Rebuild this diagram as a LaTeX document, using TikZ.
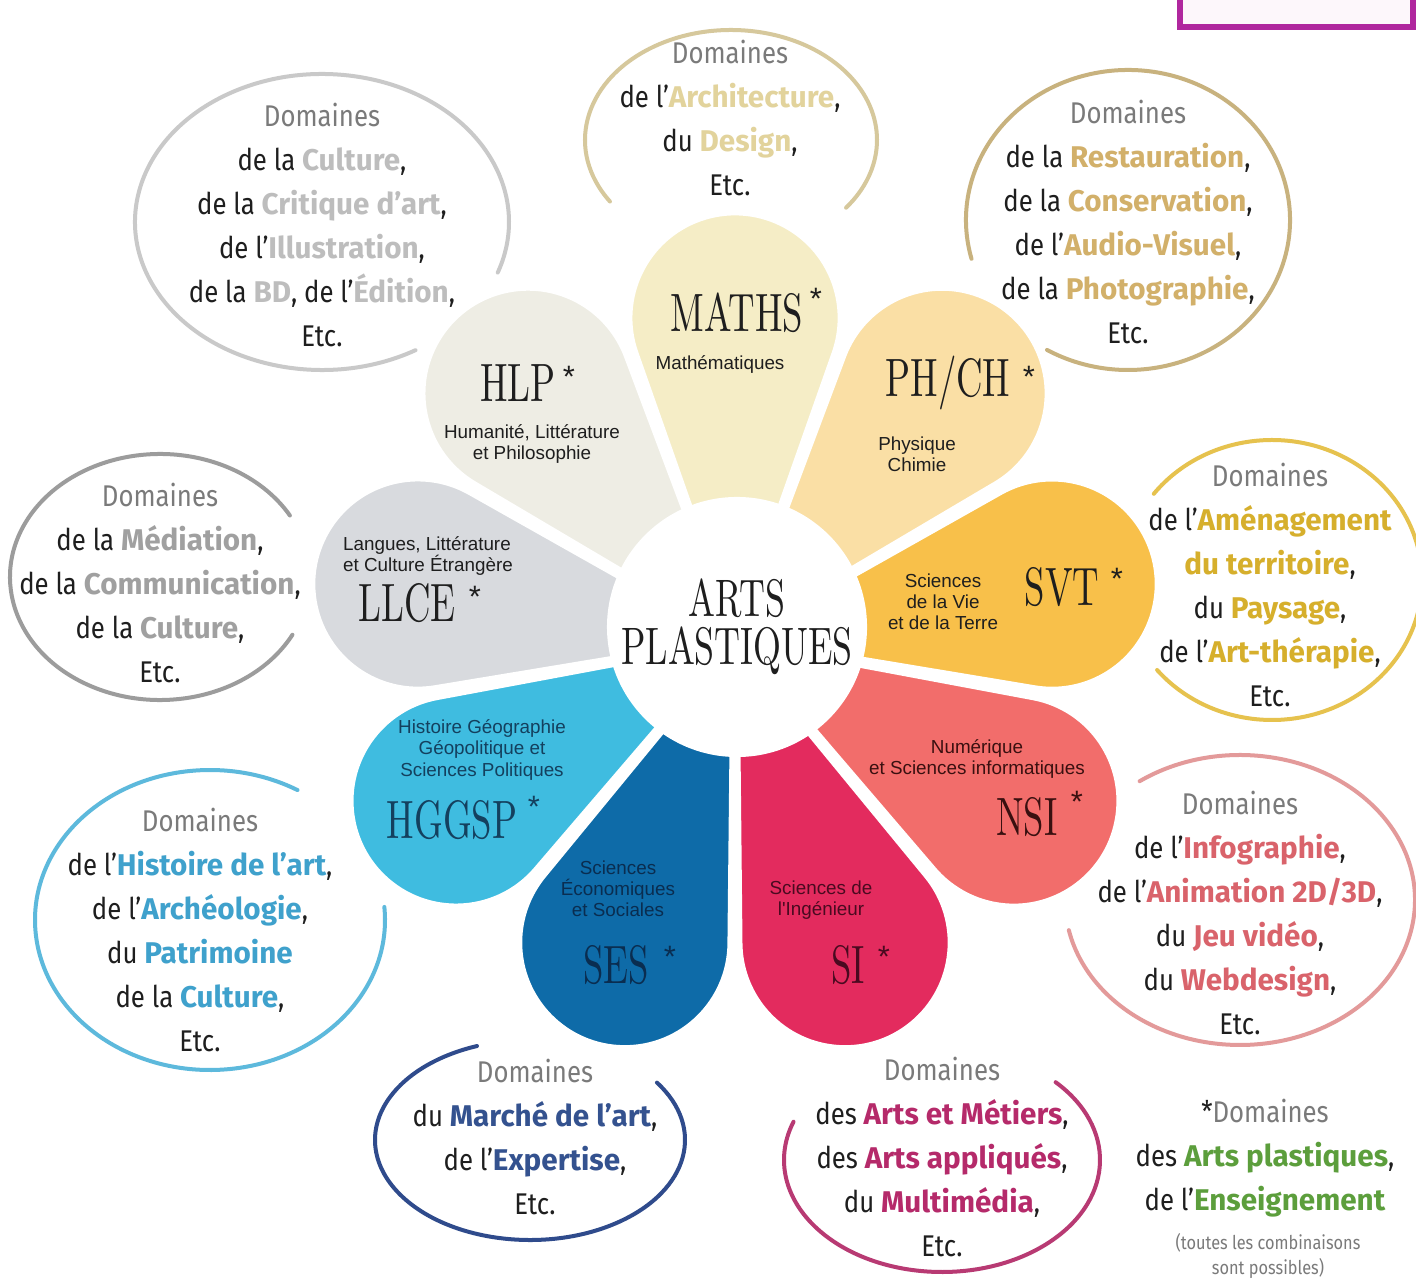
\documentclass[tikz,border=0pt]{standalone}
\usepackage{fontspec}
\usepackage{xcolor}
\usepackage{tikz}
\newfontfamily\domfont[FakeStretch=0.86]{Fira Sans}
\newfontfamily\dombold[FakeStretch=0.99]{Fira Sans}
\newfontfamily\petfont[FakeStretch=0.68]{lmroman10-regular.otf}
\newfontfamily\subfont{Liberation Sans}

% colores de los petalos
\definecolor{petHLP}{HTML}{EEEDE4}
\definecolor{petMATHS}{HTML}{F5EDC6}
\definecolor{petPHCH}{HTML}{FADFA5}
\definecolor{petSVT}{HTML}{F8C04A}
\definecolor{petNSI}{HTML}{F26D6B}
\definecolor{petSI}{HTML}{E32B5E}
\definecolor{petSES}{HTML}{0E6BA8}
\definecolor{petHGGSP}{HTML}{3FBCE0}
\definecolor{petLLCE}{HTML}{D8DADE}
% colores de los textos
\definecolor{negro}{HTML}{1E1E1E}
\definecolor{grisDom}{HTML}{7A7A7A}
\definecolor{txtNSI}{HTML}{3A1010}
\definecolor{txtSI}{HTML}{4A0A20}
\definecolor{txtSES}{HTML}{0A2D50}
\definecolor{txtHGGSP}{HTML}{14405E}
% colores de las burbujas y de las palabras resaltadas
\definecolor{lnArch}{HTML}{D6C89C}\definecolor{wArch}{HTML}{E2D39C}
\definecolor{lnCult}{HTML}{C9C9C9}\definecolor{wCult}{HTML}{BDBDBD}
\definecolor{lnRest}{HTML}{C8B27E}\definecolor{wRest}{HTML}{D2B06A}
\definecolor{lnAmen}{HTML}{E6C24E}\definecolor{wAmen}{HTML}{D6AF2C}
\definecolor{lnInfo}{HTML}{E39A9A}\definecolor{wInfo}{HTML}{D9636B}
\definecolor{lnMet}{HTML}{B83A73}\definecolor{wMet}{HTML}{B52A6A}
\definecolor{lnMar}{HTML}{2F4B8C}\definecolor{wMar}{HTML}{34528F}
\definecolor{lnHist}{HTML}{5DB9DC}\definecolor{wHist}{HTML}{3FA1CC}
\definecolor{lnMed}{HTML}{9C9C9C}\definecolor{wMed}{HTML}{A0A0A0}
\definecolor{wEns}{HTML}{5C9E3C}
\definecolor{magCaja}{HTML}{B0279E}
\definecolor{fondoCaja}{HTML}{FDF7FB}

\newcommand\resalta[2]{\textcolor{#1}{\dombold\bfseries #2}}
\newcommand\domtit[1]{\textcolor{grisDom}{#1}}

\begin{document}
\begin{tikzpicture}[x=0.025cm, y=-0.025cm,
	petalo/.style={fill=#1, draw=white, line width=0.22cm},
	burbuja/.style={draw=#1, line width=0.1cm, line cap=round},
	dominio/.style={align=center, text=negro, inner sep=0pt, font=\domfont\fontsize{21.3}{31.3}\selectfont},
	sigla/.style={text=#1, inner sep=0pt, font=\petfont\fontsize{38.4}{40}\selectfont},
	estrella/.style={text=#1, inner sep=0pt, font=\subfont\fontsize{22}{22}\selectfont},
	nombre/.style={text=#1, align=center, inner sep=0pt, font=\subfont\fontsize{13.4}{15}\selectfont}]
	
	% fondo y margenes
	\fill[white] (0,0) rectangle (1416,1279);
	\useasboundingbox (0,0) rectangle (1416,1279);
	
	% recuadro cortado arriba a la derecha
	\filldraw[draw=magCaja, fill=fondoCaja, line width=0.15cm] (1180,-20) rectangle (1413,27);
	
	% petalos: punta en el centro, circulo de radio 107 a distancia 322
	\coordinate (O) at (735,640);
	\foreach \ang/\col in {270/petMATHS, 310/petPHCH, 350/petSVT, 30/petNSI, 70/petSI,
		110/petSES, 150/petHGGSP, 190/petLLCE, 230/petHLP} {
		\filldraw[petalo=\col] (O) -- ++(\ang-19.4:303.7)
			arc[start angle=\ang-109.4, end angle=\ang+109.4, radius=107] -- cycle;
	}
	
	% centro de la flor
	\node[circle, fill=white, minimum size=6.5cm, inner sep=0pt, align=center, text=negro,
		font=\petfont\fontsize{37.5}{34}\selectfont] (centro) at (737,627) {ARTS\\PLASTIQUES};
	
	% siglas con su asterisco
	\foreach \nm/\txt/\x/\y/\sx/\sy/\col in {
		maths/MATHS/737/313/816/299/negro, hlp/HLP/518/383/569/377/negro,
		phch/{PH/CH}/948/383/1029/377/negro, svt/SVT/1062/587/1117/579/negro,
		nsi/NSI/1027/817/1077/802/txtNSI, si/SI/848/965/884/957/txtSI,
		ses/SES/616/965/670/957/txtSES, hggsp/HGGSP/452/820/534/807/txtHGGSP,
		llce/LLCE/407/603/475/597/negro} {
		\node[sigla=\col] (sig-\nm) at (\x,\y) {\txt};
		\node[estrella=\col] (est-\nm) at (\sx,\sy) {*};
	}
	
	% nombres completos de las materias
	\node[nombre=negro] (nom-maths) at (720,365) {Mathématiques};
	\node[nombre=negro] (nom-hlp) at (532,444) {Humanité, Littérature\\et Philosophie};
	\node[nombre=negro] (nom-phch) at (917,454) {Physique\\Chimie};
	\node[nombre=negro] (nom-svt) at (943,602) {Sciences\\de la Vie\\et de la Terre};
	\node[nombre=txtNSI] (nom-nsi) at (977,759) {Numérique\\et Sciences informatiques};
	\node[nombre=txtSI] (nom-si) at (821,900) {Sciences de\\l'Ingénieur};
	\node[nombre=txtSES] (nom-ses) at (618,889) {Sciences\\Économiques\\et Sociales};
	\node[nombre=txtHGGSP] (nom-hggsp) at (482,750) {Histoire Géographie\\Géopolitique et\\Sciences Politiques};
	\node[nombre=negro, align=left] (nom-llce) at (428,556) {Langues, Littérature\\et Culture Étrangère};
	
	% burbujas abiertas hacia la flor
	\foreach \cx/\cy/\rx/\ry/\ini/\fin/\col in {
		731/140/146/110/146/398/lnArch, 322/222/187/148/60/380/lnCult,
		1128/220/162/150/165/480/lnRest, 1272/580/150/140/218/500/lnAmen,
		1240/900/175/145/235/528/lnInfo, 942/1160/158/112/316/560/lnMet,
		530/1140/155/100/325/610/lnMar, 210/920/175/150/355/660/lnHist,
		160/577/150/123/28/330/lnMed} {
		\draw[burbuja=\col] (\cx,\cy) ++({\rx*cos(\ini)},{\ry*sin(\ini)})
			arc[start angle=\ini, end angle=\fin, x radius=\rx, y radius=\ry];
	}
	
	% textos de los dominios
	\node[dominio] (dom-arch) at (730,118) {\domtit{Domaines}\\de l’\resalta{wArch}{Architecture},\\du \resalta{wArch}{Design},\\Etc.};
	\node[dominio] (dom-cult) at (322,225) {\domtit{Domaines}\\de la \resalta{wCult}{Culture},\\de la \resalta{wCult}{Critique d’art},\\de l’\resalta{wCult}{Illustration},\\de la \resalta{wCult}{BD}, de l’\resalta{wCult}{Édition},\\Etc.};
	\node[dominio] (dom-rest) at (1128,222) {\domtit{Domaines}\\de la \resalta{wRest}{Restauration},\\de la \resalta{wRest}{Conservation},\\de l’\resalta{wRest}{Audio-Visuel},\\de la \resalta{wRest}{Photographie},\\Etc.};
	\node[dominio] (dom-amen) at (1270,585) {\domtit{Domaines}\\de l’\resalta{wAmen}{Aménagement}\\\resalta{wAmen}{du territoire},\\du \resalta{wAmen}{Paysage},\\de l’\resalta{wAmen}{Art-thérapie},\\Etc.};
	\node[dominio] (dom-info) at (1240,913) {\domtit{Domaines}\\de l’\resalta{wInfo}{Infographie},\\de l’\resalta{wInfo}{Animation 2D/3D},\\du \resalta{wInfo}{Jeu vidéo},\\du \resalta{wInfo}{Webdesign},\\Etc.};
	\node[dominio] (dom-met) at (942,1157) {\domtit{Domaines}\\des \resalta{wMet}{Arts et Métiers},\\des \resalta{wMet}{Arts appliqués},\\du \resalta{wMet}{Multimédia},\\Etc.};
	\node[dominio] (dom-mar) at (535,1137) {\domtit{Domaines}\\du \resalta{wMar}{Marché de l’art},\\de l’\resalta{wMar}{Expertise},\\Etc.};
	\node[dominio] (dom-hist) at (200,930) {\domtit{Domaines}\\de l’\resalta{wHist}{Histoire de l’art},\\de l’\resalta{wHist}{Archéologie},\\du \resalta{wHist}{Patrimoine}\\de la \resalta{wHist}{Culture},\\Etc.};
	\node[dominio] (dom-med) at (160,583) {\domtit{Domaines}\\de la \resalta{wMed}{Médiation},\\de la \resalta{wMed}{Communication},\\de la \resalta{wMed}{Culture},\\Etc.};
	
	% nota del asterisco
	\node[dominio] (nota) at (1265,1158) {*\domtit{Domaines}\\des \resalta{wEns}{Arts plastiques},\\de l’\resalta{wEns}{Enseignement}};
	\node[dominio, text=grisDom, font=\domfont\fontsize{13.5}{17.8}\selectfont] (nota-pie) at (1268,1256) {(toutes les combinaisons\\sont possibles)};
\end{tikzpicture}
\end{document}
